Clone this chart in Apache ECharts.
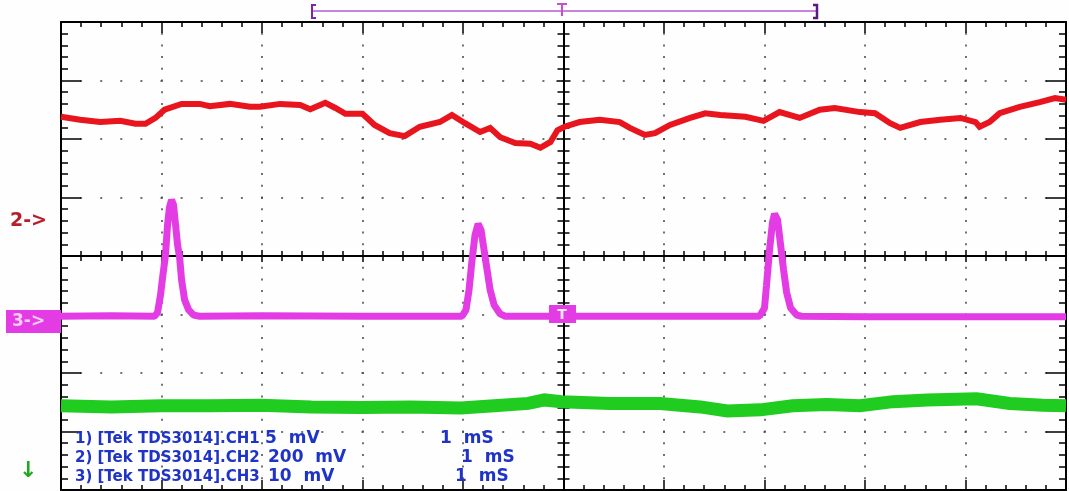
<!DOCTYPE html>
<html>
<head>
<meta charset="utf-8">
<script src="https://cdn.jsdelivr.net/npm/echarts@6/dist/echarts.min.js"></script>
<style>
  html, body { margin: 0; padding: 0; background: #fff; }
  #chart { width: 1069px; height: 491px; }
</style>
</head>
<body>
<div id="chart"></div>
<script>
// time in ms (1 ms / div), level in screen divisions (center = 0)
const redTime = [0, 0.19, 0.39, 0.59, 0.74, 0.84, 0.94, 1.03, 1.2, 1.38, 1.48, 1.68, 1.88, 1.98, 2.18, 2.38, 2.48, 2.63, 2.73, 2.83,
  3.0, 3.12, 3.27, 3.42, 3.57, 3.77, 3.89, 4.02, 4.17, 4.27, 4.37, 4.52, 4.67, 4.77, 4.87, 4.94, 5.01, 5.16, 5.36, 5.56,
  5.66, 5.81, 5.91, 6.06, 6.26, 6.41, 6.56, 6.81, 6.99, 7.15, 7.35, 7.55, 7.7, 7.95, 8.1, 8.25, 8.35, 8.55, 8.75, 8.95,
  9.1, 9.14, 9.24, 9.34, 9.54, 9.74, 9.89, 10];
const redLevel = [2.38, 2.33, 2.29, 2.31, 2.26, 2.26, 2.36, 2.5, 2.6, 2.6, 2.56, 2.6, 2.55, 2.55, 2.6, 2.58, 2.51, 2.62, 2.53, 2.43,
  2.43, 2.24, 2.1, 2.05, 2.21, 2.29, 2.41, 2.27, 2.12, 2.19, 2.03, 1.93, 1.92, 1.85, 1.95, 2.15, 2.21, 2.29, 2.33, 2.29,
  2.19, 2.07, 2.1, 2.24, 2.36, 2.44, 2.41, 2.38, 2.31, 2.46, 2.36, 2.5, 2.53, 2.46, 2.44, 2.27, 2.19, 2.29, 2.33, 2.36,
  2.29, 2.21, 2.29, 2.44, 2.55, 2.63, 2.7, 2.67];

const magentaTime = [0, 0.5, 0.93, 0.96, 0.99, 1.01, 1.04, 1.06, 1.08, 1.1, 1.12, 1.14, 1.16, 1.18, 1.2, 1.23, 1.27, 1.32, 1.38,
  2, 3, 3.99, 4.03, 4.06, 4.09, 4.12, 4.15, 4.18, 4.21, 4.24, 4.27, 4.31, 4.37, 4.42, 5, 6,
  6.95, 7.0, 7.02, 7.05, 7.08, 7.1, 7.13, 7.16, 7.19, 7.22, 7.26, 7.32, 7.37, 8, 9, 10];
const magentaLevel = [-1.03, -1.02, -1.03, -0.97, -0.67, -0.38, 0.02, 0.53, 0.84, 0.96, 0.87, 0.53, 0.19, -0.02, -0.41, -0.75, -0.92, -1.01, -1.03,
  -1.02, -1.03, -1.03, -0.92, -0.58, -0.07, 0.36, 0.55, 0.44, 0.1, -0.24, -0.58, -0.84, -0.99, -1.03, -1.03, -1.03,
  -1.03, -0.89, -0.5, 0.1, 0.58, 0.72, 0.62, 0.19, -0.24, -0.62, -0.89, -1.01, -1.03, -1.04, -1.04, -1.04];

const greenTime = [0, 0.5, 1.0, 1.49, 1.99, 2.49, 2.99, 3.48, 3.98, 4.31, 4.65, 4.81, 4.98, 5.46, 5.96, 6.36, 6.63, 6.96,
  7.28, 7.62, 7.95, 8.28, 8.62, 9.11, 9.44, 9.77, 10];
const greenLevel = [-2.56, -2.58, -2.56, -2.56, -2.55, -2.58, -2.59, -2.58, -2.6, -2.56, -2.52, -2.46, -2.49, -2.52, -2.52, -2.58, -2.65, -2.63,
  -2.56, -2.54, -2.56, -2.49, -2.46, -2.44, -2.52, -2.55, -2.56];

const legendLines = [
  ['1) [Tek TDS3014].CH1', '5  mV', '1  mS'],
  ['2) [Tek TDS3014].CH2', '200  mV', '1  mS'],
  ['3) [Tek TDS3014].CH3', '10  mV', '1  mS']
];

function pairs(t, v) {
  return t.map((x, i) => [x, v[i]]);
}

const chart = echarts.init(document.getElementById('chart'));

const gridW = 1005;
const gridH = 468;
const black = '#000';

function xAx(opt) {
  return Object.assign({
    type: 'value', min: 0, max: 10, interval: 1,
    axisLabel: { show: false },
    splitLine: { show: false },
    axisLine: { show: true, onZero: false, lineStyle: { color: black, width: 2 } }
  }, opt);
}
function yAx(opt) {
  return Object.assign({
    type: 'value', min: -4, max: 4, interval: 1,
    axisLabel: { show: false },
    splitLine: { show: false },
    axisLine: { show: true, onZero: false, lineStyle: { color: black, width: 2 } }
  }, opt);
}
const tickStyle = { color: black, width: 1.5 };

// legend text pieces
const legendX = [[75, 265, 440], [75, 268, 461], [75, 268, 455]];
const legendY = [439, 458, 477];
const legendTexts = [];
legendLines.forEach((line, r) => {
  line.forEach((s, c) => {
    legendTexts.push({
      type: 'text', z: 100, x: legendX[r][c], y: legendY[r],
      style: {
        text: s, fill: '#1f33c6', verticalAlign: 'middle',
        font: c === 0 ? 'bold 15px "DejaVu Sans"' : 'bold 17px "DejaVu Sans"'
      }
    });
  });
});

chart.setOption({
  animation: false,
  backgroundColor: '#fefefe',
  grid: { left: 61, top: 22, width: gridW, height: gridH, containLabel: false, outerBoundsMode: 'none' },
  xAxis: [
    // bottom frame + dotted verticals
    xAx({
      position: 'bottom',
      axisTick: { show: true, inside: true, length: 10, lineStyle: tickStyle },
      minorTick: { show: true, splitNumber: 5, length: 5, lineStyle: tickStyle },
      splitLine: { show: true, lineStyle: { color: '#444', width: 1.5, type: [2, 9.7], dashOffset: 1 } }
    }),
    // top frame
    xAx({
      position: 'top',
      axisTick: { show: true, inside: true, length: 11, lineStyle: tickStyle },
      minorTick: { show: true, splitNumber: 5, length: 5, lineStyle: tickStyle }
    }),
    // center horizontal, ticks up
    xAx({
      position: 'bottom', offset: -gridH / 2,
      axisTick: { show: true, inside: true, length: 6, lineStyle: tickStyle },
      minorTick: { show: true, splitNumber: 5, length: 5, lineStyle: tickStyle }
    }),
    // center horizontal, ticks down
    xAx({
      position: 'bottom', offset: -gridH / 2,
      axisTick: { show: true, inside: false, length: 6, lineStyle: tickStyle },
      minorTick: { show: true, splitNumber: 5, length: 5, lineStyle: tickStyle }
    })
  ],
  yAxis: [
    // left frame + dotted horizontals
    yAx({
      position: 'left',
      axisTick: { show: true, inside: true, length: 20, lineStyle: tickStyle },
      minorTick: { show: true, splitNumber: 5, length: 7, lineStyle: tickStyle },
      splitLine: { show: true, lineStyle: { color: '#444', width: 1.5, type: [2, 18.1], dashOffset: 1 } }
    }),
    // right frame
    yAx({
      position: 'right',
      axisTick: { show: true, inside: true, length: 20, lineStyle: tickStyle },
      minorTick: { show: true, splitNumber: 5, length: 7, lineStyle: tickStyle }
    }),
    // center vertical, ticks right
    yAx({
      position: 'left', offset: -gridW / 2,
      axisTick: { show: true, inside: true, length: 7, lineStyle: tickStyle },
      minorTick: { show: true, splitNumber: 5, length: 6, lineStyle: tickStyle }
    }),
    // center vertical, ticks left
    yAx({
      position: 'left', offset: -gridW / 2,
      axisTick: { show: true, inside: false, length: 7, lineStyle: tickStyle },
      minorTick: { show: true, splitNumber: 5, length: 6, lineStyle: tickStyle }
    })
  ],
  series: [
    {
      type: 'line', data: pairs(greenTime, greenLevel), showSymbol: false, z: 3,
      lineStyle: { color: '#1fcc1f', width: 13, join: 'miter' }
    },
    {
      type: 'line', data: pairs(redTime, redLevel), showSymbol: false, z: 3,
      lineStyle: { color: '#e8141e', width: 6, join: 'miter' }
    },
    {
      type: 'line', data: pairs(magentaTime, magentaLevel), showSymbol: false, z: 3,
      lineStyle: { color: '#e43ce4', width: 7 }
    }
  ],
  graphic: [
    // record window bracket at top
    { type: 'line', z: 100, shape: { x1: 312, y1: 11, x2: 817, y2: 11 }, style: { stroke: '#b65cd6', lineWidth: 1.5 } },
    { type: 'polyline', z: 100, shape: { points: [[316, 5], [312, 5], [312, 18], [316, 18]] }, style: { stroke: '#7a2aa0', lineWidth: 2, fill: null } },
    { type: 'polyline', z: 100, shape: { points: [[813, 5], [817, 5], [817, 18], [813, 18]] }, style: { stroke: '#5a1a80', lineWidth: 2.5, fill: null } },
    { type: 'polyline', z: 100, shape: { points: [[557, 4], [567, 4]] }, style: { stroke: '#d04ad8', lineWidth: 2 } },
    { type: 'line', z: 100, shape: { x1: 562, y1: 4, x2: 562, y2: 16 }, style: { stroke: '#d04ad8', lineWidth: 2 } },
    // channel markers
    {
      type: 'text', z: 100, x: 10, y: 221,
      style: { text: '2->', fill: '#b81e28', font: 'bold 19px "DejaVu Sans"', verticalAlign: 'middle' }
    },
    { type: 'rect', z: 100, shape: { x: 6, y: 310, width: 55, height: 23 }, style: { fill: '#e43ce4' } },
    {
      type: 'text', z: 101, x: 12, y: 322,
      style: { text: '3->', fill: '#f8cdf8', font: 'bold 17px "DejaVu Sans"', verticalAlign: 'middle' }
    },
    {
      type: 'text', z: 100, x: 19, y: 471,
      style: { text: '↓', fill: '#1fa81f', font: 'bold 22px "DejaVu Sans"', verticalAlign: 'middle' }
    },
    // trigger position marker
    { type: 'rect', z: 100, shape: { x: 549, y: 305, width: 27, height: 18 }, style: { fill: '#e43ce4' } },
    {
      type: 'text', z: 101, x: 562, y: 315,
      style: { text: 'T', fill: '#ffe8ff', font: 'bold 14px "DejaVu Sans"', align: 'center', verticalAlign: 'middle' }
    }
  ].concat(legendTexts)
});
</script>
</body>
</html>
